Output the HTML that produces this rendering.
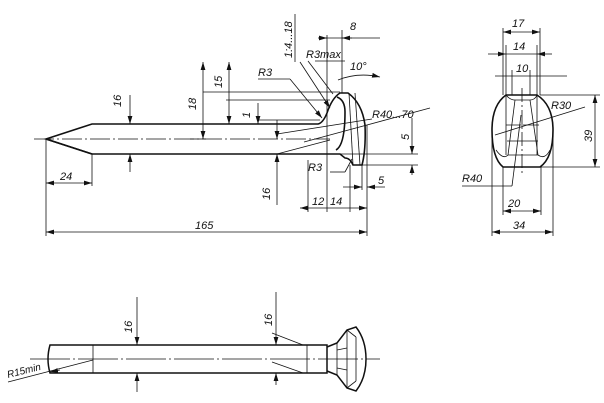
<!DOCTYPE html>
<html><head><meta charset="utf-8"><style>
html,body{margin:0;padding:0;background:#fff;}
svg{display:block}
text{font-family:"Liberation Sans",sans-serif;font-style:italic;font-size:11px;fill:#111}
</style></head><body>
<svg width="604" height="403" viewBox="0 0 604 403" xmlns="http://www.w3.org/2000/svg">
<defs>
<marker id="a" viewBox="0 0 10 6" refX="10" refY="3" markerWidth="8" markerHeight="5" orient="auto-start-reverse" markerUnits="userSpaceOnUse"><path d="M0,0L10,3L0,6z" fill="#111"/></marker>
</defs>
<g stroke="#111" fill="none" stroke-width="0.8">
<!-- TOP VIEW -->
<line x1="34" y1="139" x2="330" y2="139" stroke-dasharray="20,3,2,3"/>
<g stroke-width="1.6">
<path d="M46,139 L92,124 L318,124 Q323,123 327,113 Q332,98 340,93 L348,93 Q362,103 365,125 Q366,150 362,165 L353,165 Q350,158 345,158 L340,154 L92,154 Z"/>
<path d="M46,139 L92,154"/>
<path d="M336,150 Q345,145 345,112 Q345,100 337,97"/>
</g>
<line x1="349" y1="93" x2="353" y2="165"/>
<line x1="355" y1="93" x2="360" y2="165"/>
<line x1="92" y1="154" x2="92" y2="186"/>
<line x1="46" y1="139" x2="46" y2="236"/>
<line x1="46" y1="183" x2="92" y2="183" marker-start="url(#a)" marker-end="url(#a)"/>
<line x1="46" y1="232" x2="367" y2="232" marker-start="url(#a)" marker-end="url(#a)"/>
<line x1="367" y1="125" x2="367" y2="236"/>
<line x1="327" y1="35" x2="327" y2="212"/>
<line x1="308" y1="160" x2="308" y2="212"/>
<line x1="350" y1="165" x2="350" y2="212"/>
<line x1="300" y1="208" x2="367" y2="208" marker-start="url(#a)" marker-end="url(#a)"/>
<line x1="342" y1="30" x2="342" y2="93"/>
<line x1="320" y1="38" x2="380" y2="38"/>
<line x1="318" y1="38" x2="327" y2="38" marker-end="url(#a)"/>
<line x1="352" y1="38" x2="342" y2="38" marker-end="url(#a)"/>
<!-- 16 left -->
<line x1="130" y1="95" x2="130" y2="124" marker-end="url(#a)"/>
<line x1="130" y1="172" x2="130" y2="154" marker-end="url(#a)"/>
<!-- 18 -->
<line x1="203" y1="62" x2="203" y2="139" marker-start="url(#a)" marker-end="url(#a)"/>
<line x1="203" y1="92" x2="340" y2="92"/>
<line x1="190" y1="139" x2="206" y2="139"/>
<!-- 15 -->
<line x1="229" y1="62" x2="229" y2="124" marker-start="url(#a)" marker-end="url(#a)"/>
<line x1="226" y1="100" x2="330" y2="100"/>
<!-- 1 -->
<line x1="258" y1="103" x2="258" y2="124" marker-end="url(#a)"/>
<line x1="258" y1="120" x2="320" y2="120"/>
<!-- 16 lower -->
<line x1="277" y1="120" x2="277" y2="139" marker-end="url(#a)"/>
<line x1="277" y1="205" x2="277" y2="154" marker-end="url(#a)"/>
<line x1="277" y1="134" x2="372" y2="119"/>
<line x1="277" y1="154" x2="330" y2="140"/>
<!-- 5 right -->
<line x1="412" y1="118" x2="412" y2="154" marker-end="url(#a)"/>
<line x1="412" y1="175" x2="412" y2="165" marker-end="url(#a)"/>
<line x1="340" y1="154" x2="418" y2="154"/>
<line x1="362" y1="165" x2="418" y2="165"/>
<line x1="343" y1="187" x2="362" y2="187" marker-end="url(#a)"/>
<line x1="385" y1="187" x2="367" y2="187" marker-end="url(#a)"/>
<line x1="362" y1="165" x2="362" y2="190"/>
<!-- leaders -->
<line x1="258" y1="79" x2="290" y2="79"/>
<line x1="290" y1="79" x2="322" y2="118" marker-end="url(#a)"/>
<line x1="300" y1="62" x2="330" y2="108" marker-end="url(#a)"/>
<line x1="295" y1="14" x2="295" y2="62"/>
<line x1="315" y1="61" x2="345" y2="61"/>
<line x1="308" y1="61" x2="333" y2="94"/>
<line x1="330" y1="172" x2="345" y2="172"/>
<line x1="345" y1="172" x2="352" y2="159"/>
<line x1="304" y1="142" x2="430" y2="108"/>
<path d="M338,80 Q358,72 380,77" marker-end="url(#a)"/>
<!-- SIDE VIEW -->
<g stroke-width="1.6">
<path d="M506,95 L537,95 Q553,105 553,130 Q553,158 540,167 L503,167 Q492,158 492,130 Q492,105 506,95 Z"/>
</g>
<path d="M506,95 Q510,100 515,100 L530,100 Q535,100 537,95"/>
<path d="M515,100 L508,155 M530,100 L538,155"/>
<line x1="506" y1="125" x2="539" y2="125"/>
<line x1="507" y1="141" x2="538" y2="141"/>
<line x1="508" y1="155" x2="538" y2="155"/>
<path d="M496,150 Q503,160 508,155 M538,155 Q545,160 550,150"/>
<line x1="503" y1="28" x2="503" y2="95"/>
<line x1="540" y1="28" x2="540" y2="95"/>
<line x1="503" y1="32" x2="540" y2="32" marker-start="url(#a)" marker-end="url(#a)"/>
<line x1="506" y1="45" x2="506" y2="155"/>
<line x1="537" y1="45" x2="537" y2="155"/>
<line x1="488" y1="54" x2="506" y2="54" marker-end="url(#a)"/>
<line x1="552" y1="54" x2="537" y2="54" marker-end="url(#a)"/>
<line x1="506" y1="54" x2="537" y2="54"/>
<line x1="512" y1="70" x2="512" y2="95"/>
<line x1="530" y1="70" x2="530" y2="95"/>
<line x1="495" y1="76" x2="567" y2="76"/>
<line x1="522" y1="88" x2="522" y2="175" stroke-dasharray="14,3,2,3"/>
<line x1="540" y1="95" x2="600" y2="95"/>
<line x1="540" y1="167" x2="600" y2="167"/>
<line x1="595" y1="95" x2="595" y2="167" marker-start="url(#a)" marker-end="url(#a)"/>
<line x1="495" y1="135" x2="585" y2="107"/>
<line x1="462" y1="186" x2="512" y2="186"/>
<line x1="512" y1="186" x2="521" y2="115"/>
<line x1="492" y1="130" x2="492" y2="236"/>
<line x1="553" y1="130" x2="553" y2="236"/>
<line x1="503" y1="167" x2="503" y2="215"/>
<line x1="541" y1="167" x2="541" y2="215"/>
<line x1="503" y1="211" x2="541" y2="211" marker-start="url(#a)" marker-end="url(#a)"/>
<line x1="492" y1="232" x2="553" y2="232" marker-start="url(#a)" marker-end="url(#a)"/>
<!-- BOTTOM VIEW -->
<line x1="30" y1="359" x2="380" y2="359" stroke-dasharray="40,3,2,3"/>
<g stroke-width="1.5">
<path d="M50,345 L327,345 L327,373 L50,373 Q46,359 50,345 Z"/>
<path d="M327,347 L337,343 L347,330 L356,327 Q366,340 366,359 Q366,378 356,391 L347,388 L337,375 L327,371"/>
</g>
<line x1="93" y1="345" x2="93" y2="373"/>
<line x1="307" y1="345" x2="307" y2="373"/>
<line x1="337" y1="343" x2="337" y2="375"/>
<line x1="347" y1="330" x2="347" y2="388"/>
<line x1="337" y1="350" x2="347" y2="348"/>
<line x1="337" y1="368" x2="347" y2="370"/>
<line x1="347" y1="330" x2="356" y2="337"/>
<line x1="347" y1="388" x2="356" y2="381"/>
<line x1="356" y1="337" x2="356" y2="381"/>
<line x1="137" y1="297" x2="137" y2="345" marker-end="url(#a)"/>
<line x1="137" y1="392" x2="137" y2="373" marker-end="url(#a)"/>
<line x1="276" y1="292" x2="276" y2="345" marker-end="url(#a)"/>
<line x1="276" y1="385" x2="276" y2="373" marker-end="url(#a)"/>
<line x1="272" y1="333" x2="303" y2="345"/>
<line x1="272" y1="362" x2="303" y2="373"/>
<line x1="8" y1="382" x2="93" y2="360"/>
<line x1="60" y1="370" x2="50" y2="372" marker-end="url(#a)"/>
</g>
<g>
<text x="60" y="180">24</text>
<text x="195" y="229">165</text>
<text x="312" y="205">12</text>
<text x="330" y="205">14</text>
<text x="350" y="30">8</text>
<text x="378" y="184">5</text>
<text x="308" y="171">R3</text>
<text x="258" y="76">R3</text>
<text x="306" y="58">R3max</text>
<text x="350" y="70">10°</text>
<text x="372" y="118">R40...70</text>
<text transform="translate(121,107) rotate(-90)">16</text>
<text transform="translate(196,110) rotate(-90)">18</text>
<text transform="translate(222,88) rotate(-90)">15</text>
<text transform="translate(250,118) rotate(-90)">1</text>
<text transform="translate(270,200) rotate(-90)">16</text>
<text transform="translate(409,140) rotate(-90)">5</text>
<text transform="translate(292,58) rotate(-90)">1:4...18</text>
<text x="512" y="27">17</text>
<text x="513" y="50">14</text>
<text x="516" y="72">10</text>
<text x="551" y="109">R30</text>
<text transform="translate(592,142) rotate(-90)">39</text>
<text x="462" y="182">R40</text>
<text x="508" y="207">20</text>
<text x="513" y="229">34</text>
<text transform="translate(132,333) rotate(-90)">16</text>
<text transform="translate(272,326) rotate(-90)">16</text>
<text x="8" y="378" transform="rotate(-14 8 378)" style="font-size:10px">R15min</text>
</g>
</svg>
</body></html>
